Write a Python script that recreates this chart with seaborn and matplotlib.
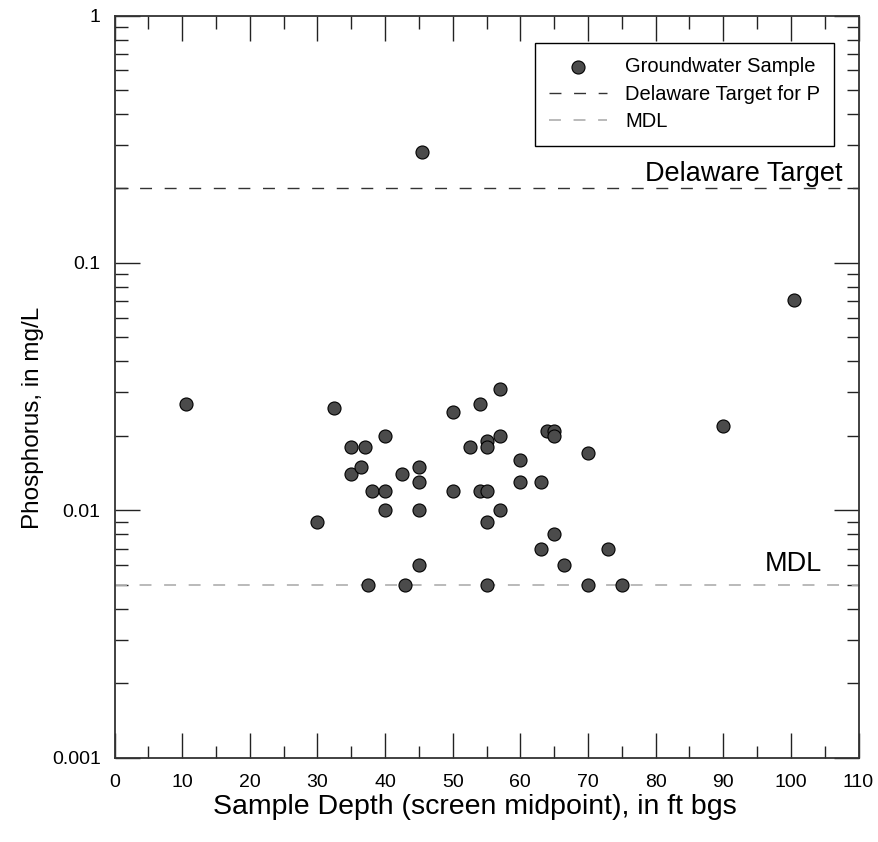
import numpy as np
import pandas as pd
import matplotlib
matplotlib.use('Agg')
import matplotlib.pyplot as plt
import seaborn as sns
from matplotlib.ticker import MultipleLocator, LogLocator, NullFormatter, FuncFormatter

# sample depth (ft bgs) and phosphorus (mg/L)
depth = [10.5, 30, 32.5, 35, 35, 36.5, 37, 37.5, 38, 40, 40, 40, 42.5, 43,
         45, 45, 45, 45, 45.5, 50, 50, 52.5, 54, 54, 55, 55, 55, 55, 55,
         57, 57, 57, 60, 60, 63, 63, 64, 65, 65, 65, 66.5, 70, 70, 73, 75,
         90, 100.5]
phosphorus = [0.027, 0.009, 0.026, 0.018, 0.014, 0.015, 0.018, 0.005, 0.012,
              0.020, 0.012, 0.010, 0.014, 0.005,
              0.015, 0.013, 0.010, 0.006, 0.28, 0.025, 0.012, 0.018, 0.027,
              0.012, 0.019, 0.018, 0.012, 0.009, 0.005,
              0.031, 0.020, 0.010, 0.016, 0.013, 0.013, 0.007, 0.021, 0.021,
              0.020, 0.008, 0.006, 0.017, 0.005, 0.007, 0.005,
              0.022, 0.071]
delaware_target = 0.2
mdl = 0.005

df = pd.DataFrame({'depth': depth, 'phosphorus': phosphorus})

sns.set_style('white')
plt.rcParams['font.family'] = ['Liberation Sans', 'DejaVu Sans']
plt.rcParams['text.color'] = 'black'
plt.rcParams['axes.labelcolor'] = 'black'
plt.rcParams['xtick.color'] = 'black'
plt.rcParams['ytick.color'] = 'black'

fig = plt.figure(figsize=(8.79, 8.42), dpi=100)
ax = fig.add_axes([0.1303, 0.1003, 0.8464, 0.8812])

# reference lines
ax.axhline(delaware_target, color='#333333', lw=1.0, ls=(0, (8.6, 9.1)),
           label='Delaware Target for P', zorder=1)
ax.axhline(mdl, color='#b4b4b4', lw=1.3, ls=(0, (6.6, 7.0)),
           label='MDL', zorder=1)

sns.scatterplot(data=df, x='depth', y='phosphorus', ax=ax, s=88,
                color='#4b4b4b', edgecolor='black', linewidth=0.8,
                label='Groundwater Sample', zorder=3)

ax.set_yscale('log')
ax.set_xlim(0, 110)
ax.set_ylim(0.001, 1)

ax.xaxis.set_major_locator(MultipleLocator(10))
ax.xaxis.set_minor_locator(MultipleLocator(5))
ax.yaxis.set_major_locator(LogLocator(base=10))
ax.yaxis.set_minor_locator(LogLocator(base=10, subs=np.arange(2, 10)))
ax.yaxis.set_minor_formatter(NullFormatter())
ax.yaxis.set_major_formatter(FuncFormatter(lambda v, p: f'{v:g}'))

ax.tick_params(which='both', direction='in', width=1.0, color='#222222',
               top=True, right=True, bottom=True, left=True)
ax.tick_params(which='major', length=18, labelsize=14, pad=10)
ax.tick_params(which='minor', length=9)
ax.tick_params(axis='x', which='major', pad=12)

for sp in ax.spines.values():
    sp.set_color('#333333')
    sp.set_linewidth(1.3)

ax.set_xlabel('Sample Depth (screen midpoint), in ft bgs', fontsize=20.5)
ax.set_ylabel('Phosphorus, in mg/L', fontsize=17.5)
ax.xaxis.set_label_coords(0.4845, -0.049)
ax.yaxis.set_label_coords(-0.095, 0.4575)

ax.text(107.7, 0.214, 'Delaware Target', ha='right', va='baseline', fontsize=19.5)
ax.text(104.6, 0.0057, 'MDL', ha='right', va='baseline', fontsize=19.5)

handles, labels = ax.get_legend_handles_labels()
order = ['Groundwater Sample', 'Delaware Target for P', 'MDL']
hmap = dict(zip(labels, handles))
leg = ax.legend([hmap[k] for k in order], order, loc='upper right',
                bbox_to_anchor=(0.9675, 0.9625), borderaxespad=0,
                fontsize=14.5, frameon=True, fancybox=False, framealpha=1,
                edgecolor='black', handlelength=2.9, handletextpad=0.9,
                labelspacing=0.42, borderpad=0.7)
leg.get_frame().set_linewidth(1.0)

fig.savefig('out.png', dpi=100)
